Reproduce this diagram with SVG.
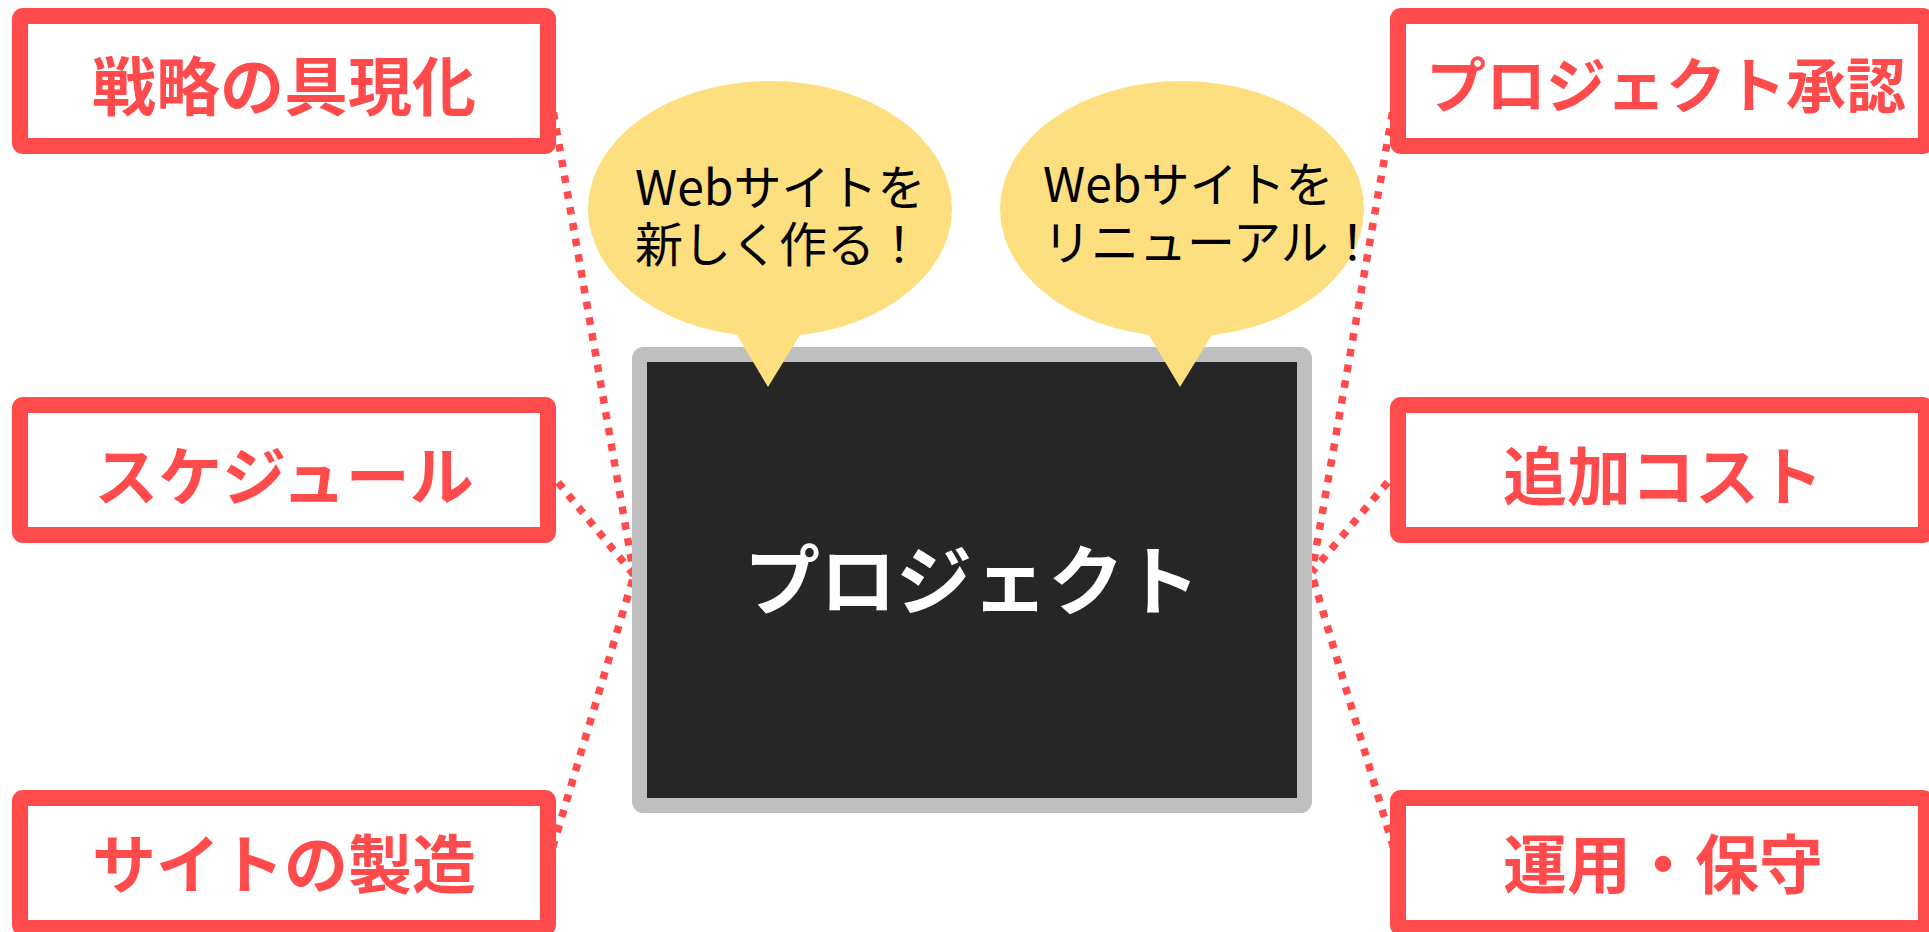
<svg xmlns="http://www.w3.org/2000/svg" width="1929" height="932" viewBox="0 0 1929 932">
<style>
.conn{fill:none;stroke:#FF4B4B;stroke-width:7.5;stroke-dasharray:7.5 8.5}
.box{fill:#FFFFFF;stroke:#FF4B4B;stroke-width:16}
.lbl{font-family:"Noto Sans CJK JP","Noto Sans",sans-serif;font-weight:bold;font-size:64px;fill:#FF4B4B;text-anchor:middle;dominant-baseline:central}
.bub{fill:#FEDF7F}
.btxt{font-family:"Noto Sans CJK JP","Noto Sans",sans-serif;font-size:48px;fill:#000000}
</style>
<rect width="1929" height="932" fill="#FFFFFF"/>
<g id="connectors">
<line class="conn" x1="548" y1="81" x2="634" y2="575"/>
<line class="conn" x1="548" y1="470" x2="634" y2="575"/>
<line class="conn" x1="548" y1="863" x2="634" y2="575"/>
<line class="conn" x1="1398" y1="81" x2="1312" y2="572"/>
<line class="conn" x1="1398" y1="470" x2="1312" y2="572"/>
<line class="conn" x1="1398" y1="863" x2="1312" y2="575"/>
</g>
<g id="project">
<rect x="639.5" y="354.5" width="665" height="451" rx="4" fill="#262626" stroke="#BFBFBF" stroke-width="15"/>
<text x="972" y="576" font-family="Noto Sans CJK JP, Noto Sans, sans-serif" font-weight="bold" font-size="76" fill="#FFFFFF" text-anchor="middle" dominant-baseline="central">プロジェクト</text>
</g>
<g id="bubble-new">
<ellipse class="bub" cx="770" cy="209" rx="182" ry="128"/>
<polygon class="bub" points="734,330 803,330 768,387"/>
<text class="btxt" x="635" y="205">Webサイトを<tspan x="635" dy="57">新しく作る！</tspan></text>
</g>
<g id="bubble-renew">
<ellipse class="bub" cx="1182" cy="209" rx="182" ry="128"/>
<polygon class="bub" points="1146,330 1215,330 1180,387"/>
<text class="btxt" x="1043" y="202">Webサイトを<tspan x="1043" dy="58">リニューアル！</tspan></text>
</g>
<g id="strategy">
<rect class="box" x="20" y="16" width="528" height="130" rx="3"/>
<text class="lbl" x="284" y="82">戦略の具現化</text>
</g>
<g id="schedule">
<rect class="box" x="20" y="405" width="528" height="130" rx="3"/>
<text class="lbl" x="284" y="472">スケジュール</text>
</g>
<g id="site-build">
<rect class="box" x="20" y="798" width="528" height="130" rx="3"/>
<text class="lbl" x="284" y="860">サイトの製造</text>
</g>
<g id="approval">
<rect class="box" x="1398" y="16" width="528" height="130" rx="3"/>
<text class="lbl" x="1666" y="81" style="font-size:60px">プロジェクト承認</text>
</g>
<g id="extra-cost">
<rect class="box" x="1398" y="405" width="528" height="130" rx="3"/>
<text class="lbl" x="1663" y="472">追加コスト</text>
</g>
<g id="operation">
<rect class="box" x="1398" y="798" width="528" height="130" rx="3"/>
<text class="lbl" x="1663" y="860">運用・保守</text>
</g>
</svg>
